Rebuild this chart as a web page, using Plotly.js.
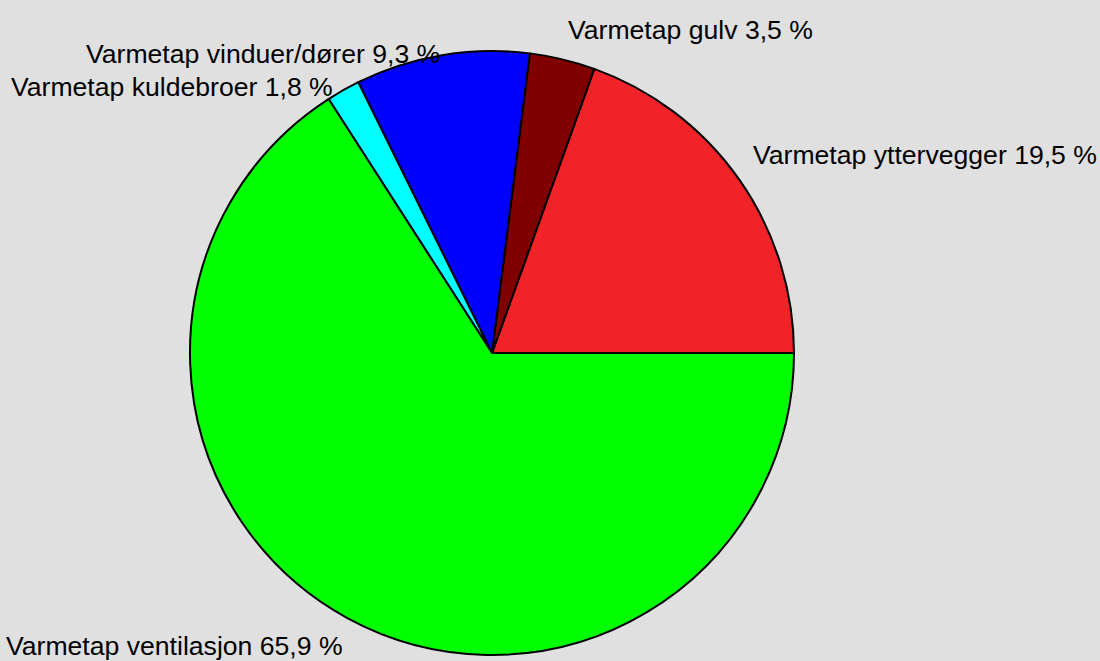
<!DOCTYPE html>
<html>
<head>
<meta charset="utf-8">
<script src="https://cdn.plot.ly/plotly-3.0.1.min.js"></script>
<style>html,body{margin:0;padding:0;background:#e0e0e0;}#chart{width:1100px;height:661px;}</style>
</head>
<body>
<div id="chart"></div>
<script>
// Data
var categories = ["Varmetap yttervegger", "Varmetap gulv", "Varmetap vinduer/dører", "Varmetap kuldebroer", "Varmetap ventilasjon"];
var values = [19.5, 3.5, 9.3, 1.8, 65.9];
var colors = ["#F22229", "#800000", "#0000FF", "#00FFFF", "#00FF00"];

// Label placement (layout only): left x pixel, middle y pixel
var labelPos = [[751, 155], [566, 30], [84, 54], [9, 87], [4, 646]];

var W = 1100, H = 661;
var cx = 492, cy = 353, r = 302;

function fmt(v){ return v.toFixed(1).replace('.', ',') + ' %'; }

var total = values.reduce(function(a, b){ return a + b; }, 0);

var annotations = categories.map(function(c, i){
  return {
    text: c + ' ' + fmt(values[i]),
    xref: 'paper', yref: 'paper',
    x: labelPos[i][0] / W, y: 1 - labelPos[i][1] / H,
    xanchor: 'left', yanchor: 'middle',
    showarrow: false,
    font: {family: '"Liberation Sans", Arial, sans-serif', size: 26.6, color: '#000'}
  };
});

var trace = {
  type: 'pie',
  labels: categories,
  values: values,
  sort: false,
  direction: 'counterclockwise',
  rotation: 90 - values[0] / total * 360,
  textinfo: 'none',
  hoverinfo: 'skip',
  marker: {colors: colors, line: {color: '#000', width: 2}},
  domain: {x: [(cx - r) / W, (cx + r) / W], y: [(H - cy - r) / H, (H - cy + r) / H]}
};

var layout = {
  width: W, height: H,
  margin: {l: 0, r: 0, t: 0, b: 0},
  paper_bgcolor: '#e0e0e0',
  plot_bgcolor: '#e0e0e0',
  showlegend: false,
  annotations: annotations
};

Plotly.newPlot('chart', [trace], layout, {displayModeBar: false, staticPlot: true});
</script>
</body>
</html>
